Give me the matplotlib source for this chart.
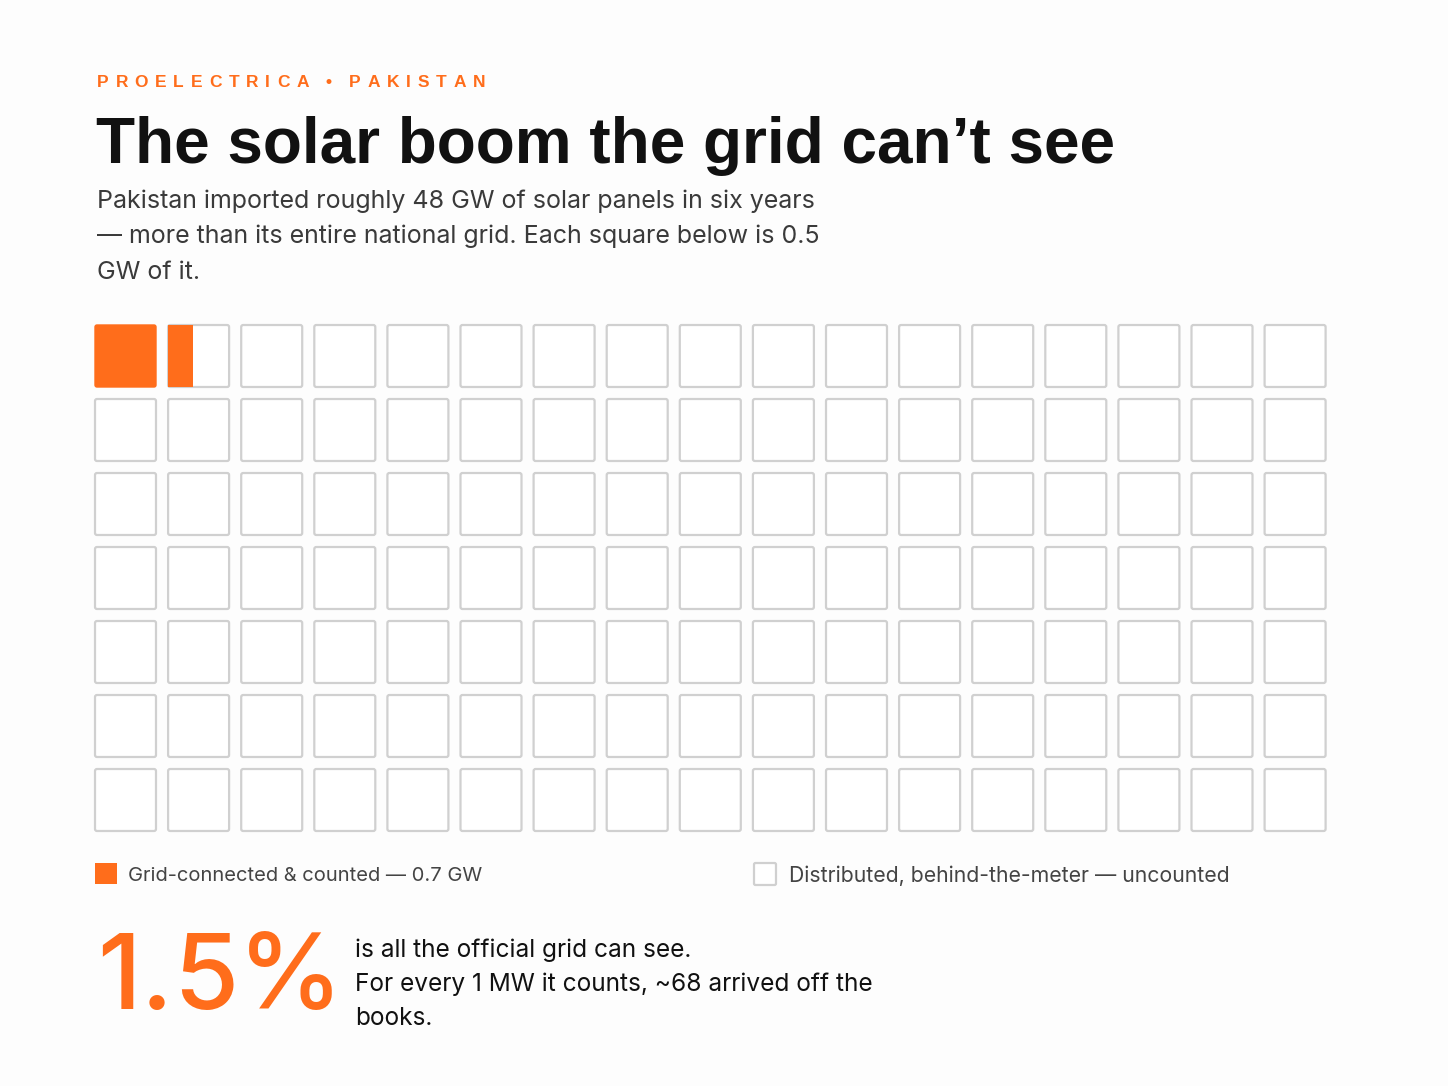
import matplotlib
matplotlib.use("Agg")
import matplotlib.pyplot as plt
from matplotlib.patches import FancyBboxPatch, Rectangle

# data
total_gw = 48
counted_gw = 0.7
gw_per_square = 0.5
n_cols = 17
n_rows = 7
share_pct = 1.5
mw_ratio = 68

kicker = "PROELECTRICA \u2022 PAKISTAN"
title = "The solar boom the grid can\u2019t see"
subtitle = ["Pakistan imported roughly %d GW of solar panels in six years" % total_gw,
            "\u2014 more than its entire national grid. Each square below is %.1f" % gw_per_square,
            "GW of it."]
legend_counted = "Grid-connected & counted \u2014 %.1f GW" % counted_gw
legend_uncounted = "Distributed, behind-the-meter \u2014 uncounted"
note = ["is all the official grid can see.",
        "For every 1 MW it counts, ~%d arrived off the" % mw_ratio,
        "books."]

ORANGE = "#FF6D1B"
EDGE = "#D0D0D0"
BODY = "Inter"
HEAD = "Liberation Sans"

W, H = 1448, 1086
fig = plt.figure(figsize=(W / 100, H / 100), dpi=100, facecolor="#FDFDFD")
ax = fig.add_axes([0, 0, 1, 1])
ax.set_xlim(0, W)
ax.set_ylim(H, 0)
ax.axis("off")
renderer = fig.canvas.get_renderer()


def tracked(x, y, s, gap=None, width=None, **kw):
    # draw characters one by one with a fixed gap, or spread to fit `width`
    arts, widths = [], []
    space = kw.get("fontsize", 12) * 0.28
    for ch in s:
        t = ax.text(x, y, ch, va="baseline", ha="left", **kw)
        arts.append(t)
        widths.append(t.get_window_extent(renderer).width if ch != " " else space)
    if gap is None:
        gap = (width - sum(widths)) / (len(s) - 1)
    pos = x
    for t, w in zip(arts, widths):
        t.set_x(pos)
        pos += w + gap


# header
tracked(97, 87, kicker, width=388, color=ORANGE, fontsize=12.5, fontweight="bold", family=HEAD)
ax.text(96, 163, title, color="#111111", fontsize=46, fontweight="bold",
        family=HEAD, va="baseline", ha="left")
for i, line in enumerate(subtitle):
    ax.text(97, 208 + i * 35.5, line, color="#3a3a3a", fontsize=18,
            family=BODY, va="baseline", ha="left")

# waffle grid
x0, y0 = 95, 325
pitch_x, pitch_y = 73.1, 74
size_x, size_y = 61, 62
filled = counted_gw / gw_per_square
for r in range(n_rows):
    for c in range(n_cols):
        k = r * n_cols + c
        x = x0 + c * pitch_x
        y = y0 + r * pitch_y
        frac = min(max(filled - k, 0), 1)
        if frac >= 1:
            ax.add_patch(FancyBboxPatch((x, y), size_x, size_y,
                                        boxstyle="round,pad=0,rounding_size=2",
                                        facecolor=ORANGE, edgecolor=ORANGE, lw=1))
            continue
        ax.add_patch(FancyBboxPatch((x, y), size_x, size_y,
                                    boxstyle="round,pad=0,rounding_size=2",
                                    facecolor="white", edgecolor=EDGE, lw=1.6))
        if frac > 0:
            ax.add_patch(Rectangle((x, y), size_x * frac, size_y,
                                   facecolor=ORANGE, edgecolor="none"))

# legend
ax.add_patch(Rectangle((95, 863), 22, 21, facecolor=ORANGE, edgecolor="none"))
ax.text(128, 881, legend_counted, color="#444444", fontsize=14.5,
        family=BODY, va="baseline", ha="left")
ax.add_patch(FancyBboxPatch((754, 863), 22, 22, boxstyle="round,pad=0,rounding_size=1.5",
                            facecolor="white", edgecolor=EDGE, lw=1.6))
ax.text(789, 882, legend_uncounted, color="#444444", fontsize=15.3,
        family=BODY, va="baseline", ha="left")

# big stat
tracked(97, 1009, "%.1f%%" % share_pct, gap=0, color=ORANGE, fontsize=76,
        family=BODY, fontweight="medium")
for i, line in enumerate(note):
    ax.text(355, 957 + i * 34, line, color="#111111", fontsize=17.6,
            family=BODY, va="baseline", ha="left")

fig.savefig("out.png", dpi=100, facecolor=fig.get_facecolor())
